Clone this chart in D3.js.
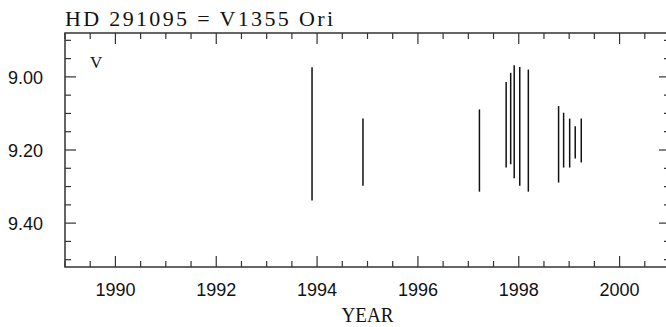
<!DOCTYPE html>
<html>
<head>
<meta charset="utf-8">
<script src="https://cdn.jsdelivr.net/npm/d3@7"></script>
<style>
  body { margin: 0; background: #fff; }
  svg { display: block; }
</style>
</head>
<body>
<div id="chart"></div>
<script>
// observation epochs (year) and V magnitude ranges (bright, faint)
const years     = [1993.90, 1994.91, 1997.22, 1997.75, 1997.84, 1997.91, 1998.02, 1998.19, 1998.79, 1998.89, 1999.01, 1999.12, 1999.24];
const magBright = [8.974, 9.114, 9.089, 9.014, 8.989, 8.968, 8.973, 8.980, 9.080, 9.098, 9.114, 9.135, 9.114];
const magFaint  = [9.338, 9.298, 9.314, 9.248, 9.239, 9.277, 9.298, 9.314, 9.289, 9.248, 9.248, 9.223, 9.234];

const xTickLabels = [1990, 1992, 1994, 1996, 1998, 2000];
const yTickLabels = [9.00, 9.20, 9.40];

const width = 666, height = 327;
const margin = { top: 33, right: -4, bottom: 60, left: 65 };
const x0 = margin.left, x1 = width - margin.right;
const y0 = margin.top, y1 = height - margin.bottom;

const svg = d3.select("#chart")
    .append("svg")
    .attr("width", width)
    .attr("height", height);

const xScale = d3.scaleLinear().domain([1989, 2001]).range([x0, x1]);
const yScale = d3.scaleLinear().domain([8.88, 9.52]).range([y0, y1]);

const axisColor = "#333";
const majorLen = 11, minorLen = 6;

// minor + major ticks
const xMinor = d3.range(1989, 2001.01, 0.5);
const yMinor = d3.range(8.90, 9.521, 0.05).map(d => +d.toFixed(2));
const isMajorX = d => Math.abs(d % 2) < 1e-6;
const isMajorY = d => Math.abs(Math.round(d * 100) % 20) === 0;

const ticks = svg.append("g")
    .attr("stroke", axisColor)
    .attr("stroke-width", 1.2);

// bottom and top x ticks
xMinor.forEach(d => {
    const len = isMajorX(d) ? majorLen : minorLen;
    const x = xScale(d);
    ticks.append("line").attr("x1", x).attr("x2", x).attr("y1", y1).attr("y2", y1 - len);
    ticks.append("line").attr("x1", x).attr("x2", x).attr("y1", y0).attr("y2", y0 + len);
});

// left and right y ticks
yMinor.forEach(d => {
    const len = isMajorY(d) ? majorLen : minorLen;
    const y = yScale(d);
    ticks.append("line").attr("x1", x0).attr("x2", x0 + len).attr("y1", y).attr("y2", y);
    ticks.append("line").attr("x1", x1).attr("x2", x1 - len).attr("y1", y).attr("y2", y);
});

// frame
svg.append("rect")
    .attr("x", x0)
    .attr("y", y0)
    .attr("width", x1 - x0)
    .attr("height", y1 - y0)
    .attr("fill", "none")
    .attr("stroke", axisColor)
    .attr("stroke-width", 1.5);

// tick labels
svg.selectAll(".xlab")
    .data(xTickLabels)
    .enter()
    .append("text")
    .attr("x", d => xScale(d))
    .attr("y", y1 + 29)
    .attr("text-anchor", "middle")
    .attr("fill", "#111")
    .style("font-family", "'Liberation Sans', Arial, sans-serif")
    .style("font-size", "18px")
    .text(d => d);

svg.selectAll(".ylab")
    .data(yTickLabels)
    .enter()
    .append("text")
    .attr("x", 43)
    .attr("y", d => yScale(d) + 7)
    .attr("text-anchor", "end")
    .attr("fill", "#111")
    .style("font-family", "'Liberation Sans', Arial, sans-serif")
    .style("font-size", "18px")
    .text(d => d3.format(".2f")(d));

// magnitude ranges
svg.append("g")
    .selectAll("line")
    .data(years)
    .enter()
    .append("line")
    .attr("x1", d => xScale(d))
    .attr("x2", d => xScale(d))
    .attr("y1", (d, i) => yScale(magBright[i]))
    .attr("y2", (d, i) => yScale(magFaint[i]))
    .attr("stroke", "#111")
    .attr("stroke-width", 1.5);

// title and labels
svg.append("text")
    .attr("x", 65)
    .attr("y", 26)
    .attr("textLength", 268)
    .attr("lengthAdjust", "spacing")
    .attr("fill", "#111")
    .style("font-family", "'Liberation Serif', 'DejaVu Serif', serif")
    .style("font-size", "22px")
    .text("HD 291095 = V1355 Ori");

svg.append("text")
    .attr("x", 90)
    .attr("y", 68)
    .attr("fill", "#111")
    .style("font-family", "'Liberation Serif', 'DejaVu Serif', serif")
    .style("font-size", "17px")
    .text("V");

svg.append("text")
    .attr("x", xScale(1995))
    .attr("y", 322)
    .attr("text-anchor", "middle")
    .attr("textLength", 52)
    .attr("lengthAdjust", "spacingAndGlyphs")
    .attr("fill", "#111")
    .style("font-family", "'Liberation Serif', 'DejaVu Serif', serif")
    .style("font-size", "20px")
    .text("YEAR");
</script>
</body>
</html>
